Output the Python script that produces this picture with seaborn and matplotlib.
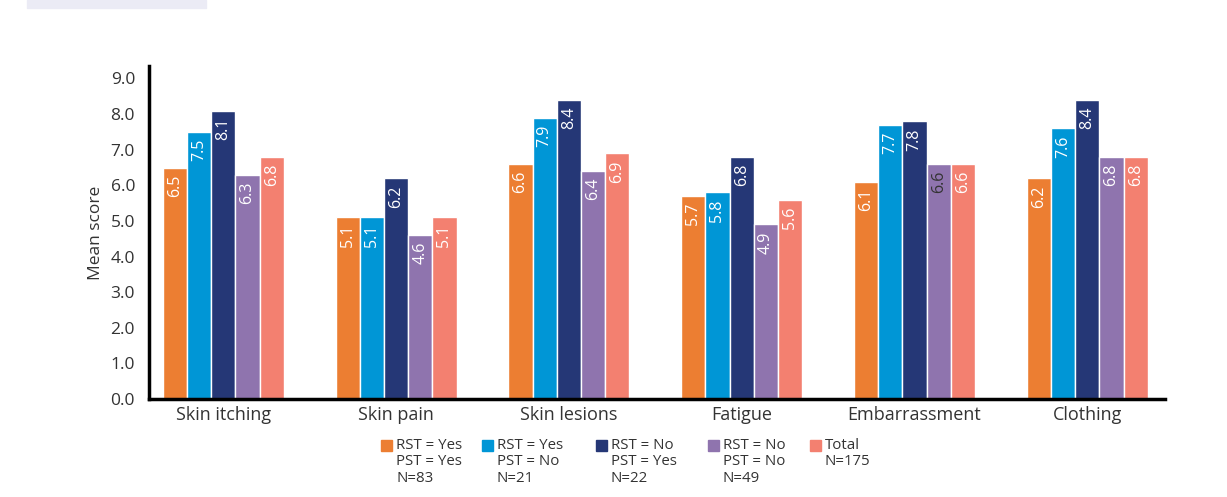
import pandas as pd
import matplotlib.pyplot as plt
import matplotlib.patches as mpatches
import seaborn as sns

# ── data ──────────────────────────────────────
categories = ["Skin itching", "Skin pain", "Skin lesions", "Fatigue", "Embarrassment", "Clothing"]
groups = ["RST = Yes\nPST = Yes\nN=83", "RST = Yes\nPST = No\nN=21",
          "RST = No\nPST = Yes\nN=22", "RST = No\nPST = No\nN=49", "Total\nN=175"]
rst_yes_pst_yes = [6.5, 5.1, 6.6, 5.7, 6.1, 6.2]
rst_yes_pst_no = [7.5, 5.1, 7.9, 5.8, 7.7, 7.6]
rst_no_pst_yes = [8.1, 6.2, 8.4, 6.8, 7.8, 8.4]
rst_no_pst_no = [6.3, 4.6, 6.4, 4.9, 6.6, 6.8]
total = [6.8, 5.1, 6.9, 5.6, 6.6, 6.8]
yticks = [0, 1, 2, 3, 4, 5, 6, 7, 8, 9]

colors = ["#EC7E32", "#0096D6", "#253776", "#8F74AE", "#F38070"]

series = [rst_yes_pst_yes, rst_yes_pst_no, rst_no_pst_yes, rst_no_pst_no, total]
df = pd.DataFrame({
    "category": categories * len(groups),
    "group": [g for g in groups for _ in categories],
    "score": [v for s in series for v in s],
})

sns.set_theme(style="white")
plt.rcParams["font.family"] = ["Open Sans", "DejaVu Sans"]

W, H = 1227, 497
fig = plt.figure(figsize=(W / 100, H / 100), dpi=100)
ax = fig.add_axes([149 / W, 1 - 399 / H, (1165 - 149) / W, (399 - 66) / H])

sns.barplot(data=df, x="category", y="score", hue="group", hue_order=groups,
            palette=colors, width=0.7, saturation=1, ax=ax, legend=False)

# value labels inside the top of each bar
for gi, cont in enumerate(ax.containers):
    for ci, bar in enumerate(cont):
        col = "white"
        if gi == 3 and categories[ci] == "Embarrassment":
            col = "#333333"
        ax.annotate(f"{series[gi][ci]:.1f}",
                    (bar.get_x() + bar.get_width() / 2, bar.get_height()),
                    xytext=(0, -5), textcoords="offset points",
                    rotation=90, ha="center", va="top", color=col, fontsize=11.5)

ax.set_ylim(0, 9.35)
ax.set_xlim(-0.43, 5.45)
ax.set_yticks(yticks)
ax.set_yticklabels([f"{t:.1f}" for t in yticks], fontsize=12.5, color="#333333")
ax.tick_params(axis="y", direction="out", length=7, width=2.5, color="black", pad=3)
ax.tick_params(axis="x", length=0, labelsize=13, labelcolor="#333333", pad=5)
ax.set_xlabel("")
ax.set_ylabel("Mean score", fontsize=12.5, color="#333333", labelpad=5)
sns.despine(ax=ax)
for side in ["left", "bottom"]:
    ax.spines[side].set_linewidth(2.5)
    ax.spines[side].set_color("black")

# legend below the axes: square at the first line, text left aligned
legend_x = [381, 482, 596, 708, 810]
for lx, c, g in zip(legend_x, colors, groups):
    fig.patches.append(mpatches.Rectangle((lx / W, 1 - 451 / H), 11 / W, 11 / H,
                                          transform=fig.transFigure, color=c))
    fig.text((lx + 15) / W, 1 - 438 / H, g, ha="left", va="top", fontsize=10.8,
             color="#333333", linespacing=1.12)

# light band at the top left corner
fig.patches.append(mpatches.Rectangle((27 / W, 1 - 8 / H), 179 / W, 8 / H,
                                      transform=fig.transFigure, color="#EBEBF5", zorder=0))

plt.savefig("out.png", dpi=100)
